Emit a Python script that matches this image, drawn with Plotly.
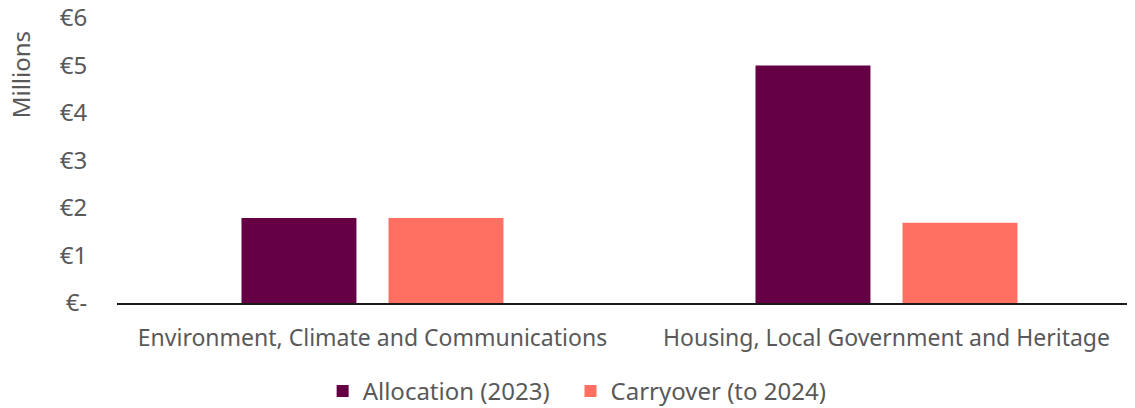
import plotly.graph_objects as go

categories = ["Environment, Climate and Communications", "Housing, Local Government and Heritage"]
allocation_2023 = [1.79, 5.0]
carryover_2024 = [1.79, 1.69]
series_names = ["Allocation (2023)", "Carryover (to 2024)"]
y_tick_values = [0, 1, 2, 3, 4, 5, 6]
y_tick_labels = ["€-", "€1", "€2", "€3", "€4", "€5", "€6"]
y_title = "Millions"

FONT = "Noto Sans, Open Sans, sans-serif"
GREY = "#595959"

fig = go.Figure()
fig.add_trace(go.Bar(x=categories, y=allocation_2023, name=series_names[0], legend="legend",
                     marker=dict(color="#660045", line=dict(width=0))))
fig.add_trace(go.Bar(x=categories, y=carryover_2024, name=series_names[1], legend="legend2",
                     marker=dict(color="#FF7062", line=dict(width=0))))

legend_style = dict(orientation="h", yanchor="middle", y=-0.31, xanchor="left",
                    font=dict(size=24, color=GREY), itemwidth=30,
                    bgcolor="rgba(0,0,0,0)")

# page body has an 8px default margin; figure sized to fit the 1135x408 viewport
fig.update_layout(
    width=1127, height=400,
    margin=dict(l=109, r=0, t=10, b=105, autoexpand=False),
    paper_bgcolor="white", plot_bgcolor="white",
    barmode="group", bargap=0.428, bargroupgap=0.218,
    font=dict(family=FONT, size=23, color=GREY),
    showlegend=True,
    legend=dict(x=0.202, **legend_style),
    legend2=dict(x=0.4455, **legend_style),
    annotations=[dict(text=y_title, textangle=-90, xref="paper", yref="paper",
                      x=-0.094, y=0.80, xanchor="center", yanchor="middle",
                      showarrow=False, font=dict(size=24, color=GREY))],
)
fig.update_xaxes(range=[-0.497, 1.4835], showline=True, linecolor="#1a1a1a", linewidth=1.5,
                 automargin=False, showgrid=False, ticks="outside", ticklen=14,
                 tickcolor="rgba(0,0,0,0)", tickfont=dict(size=23, color=GREY))
fig.update_yaxes(range=[0, 6], tickvals=y_tick_values, ticktext=y_tick_labels,
                 showgrid=False, zeroline=False, showline=False, automargin=False,
                 ticklabeloverflow="allow",
                 ticks="outside", ticklen=24, tickcolor="rgba(0,0,0,0)",
                 tickfont=dict(size=24, color=GREY))

fig.write_html("out.html")
